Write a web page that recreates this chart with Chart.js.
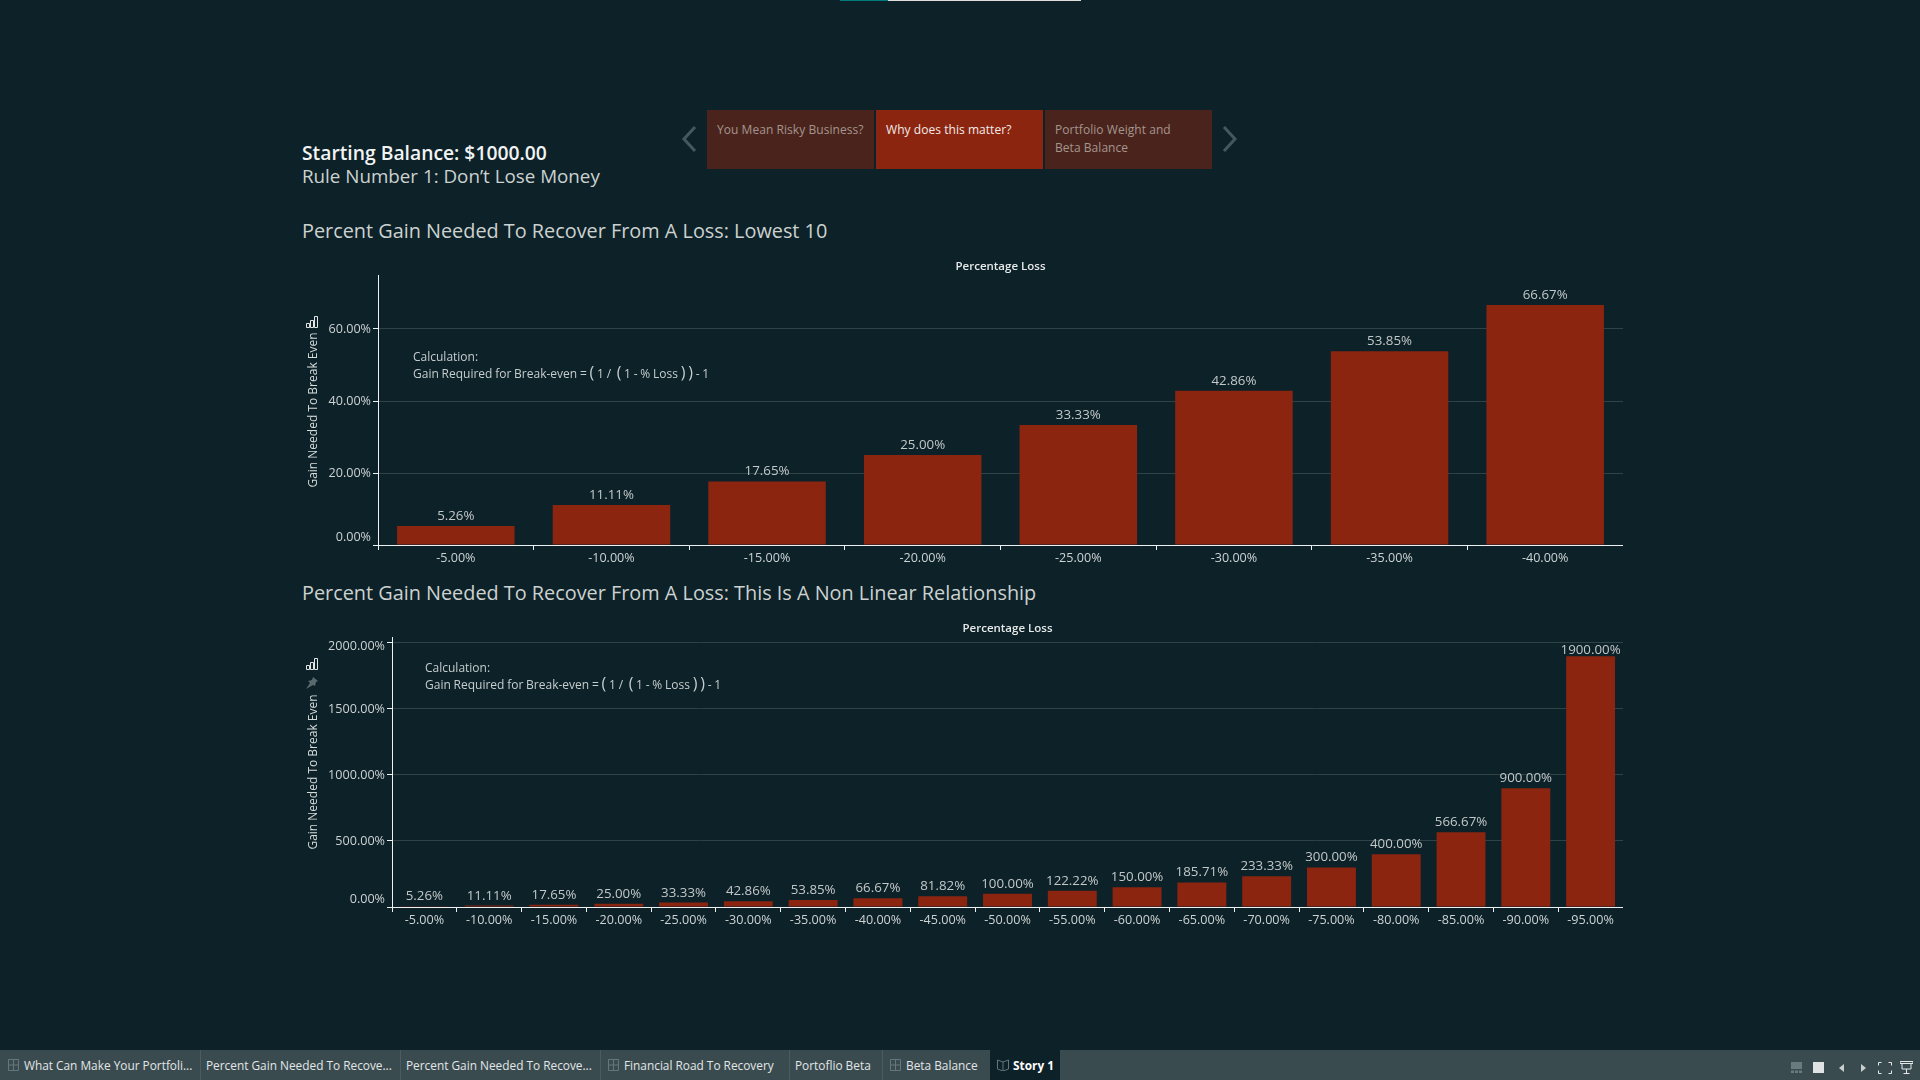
<!DOCTYPE html>
<html>
<head>
<meta charset="utf-8">
<title>Why does this matter?</title>
<script src="https://cdn.jsdelivr.net/npm/chart.js@4/dist/chart.umd.min.js"></script>
<style>
  html, body { margin: 0; width: 1920px; height: 1080px; overflow: hidden; background: #0d2128; }
  body { position: relative; font-family: "Open Sans", "Noto Sans", sans-serif; color: #cdd3d3; }
  .t { position: absolute; white-space: nowrap; line-height: 20px; }
  .h { font-size: 19.85px; line-height: 26px; color: #ccd2d0; }
  .calc { font-size: 12px; color: #c6cdcd; word-spacing: -0.35px; }
  .paren { font-size: 16px; line-height: 16px; }
  canvas { position: absolute; }
  #strip1, #strip2, .box, #tabbar, .tabsep, #activetab { position: absolute; }
  #strip1 { left: 840px; top: 0; width: 48px; height: 1px; background: #007a7a; }
  #strip2 { left: 888px; top: 0; width: 193px; height: 1px; background: #dddddd; }
  .box { top: 110px; width: 167px; height: 59px; background: #4a241c; }
  .box.on { background: #8b2510; }
  .box span { position: absolute; left: 10px; font-size: 12px; line-height: 18px; color: #a5958f; white-space: nowrap; letter-spacing: 0.05px; }
  .box.on span { color: #f1ebe8; }
  #tabbar { left: 0; top: 1050px; width: 1920px; height: 30px; background: #3a4b50; }
  .tabsep { top: 0; width: 1px; height: 30px; background: #4b5b60; }
  #activetab { left: 990px; top: 0; width: 70px; height: 30px; background: #0d2128; }
  .tab { position: absolute; top: 0; line-height: 30px; font-size: 11.85px; color: #e2e6e6; white-space: nowrap; }
  svg { position: absolute; }
</style>
</head>
<body>
<div id="strip1"></div><div id="strip2"></div>

<div class="t" style="left:302px;top:143px;font-size:19.3px;font-weight:600;color:#f2f4f4">Starting Balance: $1000.00</div>
<div class="t" style="left:302px;top:166px;font-size:18.8px;color:#ccd2d0">Rule Number 1: Don’t Lose Money</div>

<svg style="left:680px;top:125px" width="18" height="28" viewBox="0 0 18 28"><path d="M15 2 L4 14 L15 26" fill="none" stroke="#45585e" stroke-width="3"/></svg>
<div class="box" style="left:707px"><span style="top:11px">You Mean Risky Business?</span></div>
<div class="box on" style="left:876px"><span style="top:11px">Why does this matter?</span></div>
<div class="box" style="left:1045px"><span style="top:11px">Portfolio Weight and</span><span style="top:29px">Beta Balance</span></div>
<svg style="left:1221px;top:125px" width="18" height="28" viewBox="0 0 18 28"><path d="M3 2 L14 14 L3 26" fill="none" stroke="#45585e" stroke-width="3"/></svg>

<div class="t h" style="left:302px;top:218px">Percent Gain Needed To Recover From A Loss: Lowest 10</div>
<div class="t h" style="left:302px;top:580px">Percent Gain Needed To Recover From A Loss: This Is A Non Linear Relationship</div>

<canvas id="lowest"></canvas>
<canvas id="allLosses"></canvas>

<svg style="left:306px;top:316px" width="12" height="12" viewBox="0 0 12 12"><path d="M.5 7.500h3v4h-3zM4.500 4.500h3v7h-3zM8.500.5h3v11h-3z" fill="none" stroke="#e2e6e6" stroke-width="1"/></svg>
<svg style="left:306px;top:658px" width="12" height="12" viewBox="0 0 12 12"><path d="M.5 7.500h3v4h-3zM4.500 4.500h3v7h-3zM8.500.5h3v11h-3z" fill="none" stroke="#e2e6e6" stroke-width="1"/></svg>
<svg style="left:306px;top:677px" width="12" height="12" viewBox="0 0 12 12"><path d="M7 0l5 4-2 1-1 4-2-1-7 4 4-6-2-2 4-1z" fill="#59696e"/></svg>

<div class="t calc" style="left:413px;top:347px">Calculation:</div>
<div class="t calc" style="left:413px;top:364px">Gain Required for Break-even = <span class="paren">(</span> 1 /&nbsp; <span class="paren">(</span> 1 - % Loss <span class="paren">)</span> <span class="paren">)</span> - 1</div>
<div class="t calc" style="left:425px;top:658px">Calculation:</div>
<div class="t calc" style="left:425px;top:675px">Gain Required for Break-even = <span class="paren">(</span> 1 /&nbsp; <span class="paren">(</span> 1 - % Loss <span class="paren">)</span> <span class="paren">)</span> - 1</div>

<div id="tabbar">
  <div class="tabsep" style="left:200px"></div>
  <div class="tabsep" style="left:400px"></div>
  <div class="tabsep" style="left:600px"></div>
  <div class="tabsep" style="left:789px"></div>
  <div class="tabsep" style="left:882px"></div>
  <div id="activetab"></div>
  <svg style="left:8px;top:9px" width="11" height="12" viewBox="0 0 11 12"><path d="M.5.5h10v11H.5zM5.5.5v11M.5 6h10" fill="none" stroke="#66767a"/></svg>
  <svg style="left:608px;top:9px" width="11" height="12" viewBox="0 0 11 12"><path d="M.5.5h10v11H.5zM5.5.5v11M.5 6h10" fill="none" stroke="#66767a"/></svg>
  <svg style="left:890px;top:9px" width="11" height="12" viewBox="0 0 11 12"><path d="M.5.5h10v11H.5zM5.5.5v11M.5 6h10" fill="none" stroke="#66767a"/></svg>
  <svg style="left:997px;top:9px" width="12" height="12" viewBox="0 0 12 12"><path d="M.5 1l5.500 2 5.500-2v9l-5.500 2-5.500-2zM6 3v9" fill="none" stroke="#66767a"/></svg>
  <div class="tab" style="left:24px">What Can Make Your Portfoli...</div>
  <div class="tab" style="left:206px">Percent Gain Needed To Recove...</div>
  <div class="tab" style="left:406px">Percent Gain Needed To Recove...</div>
  <div class="tab" style="left:624px">Financial Road To Recovery</div>
  <div class="tab" style="left:795px">Portoflio Beta</div>
  <div class="tab" style="left:906px">Beta Balance</div>
  <div class="tab" style="left:1013px;color:#fff;font-weight:700">Story 1</div>
  <svg style="left:1791px;top:12px" width="11" height="11" viewBox="0 0 11 11"><path d="M0 0h11v7H0zM0 8.500h3V11H0zM4 8.500h3V11H4zM8 8.500h3V11H8z" fill="#6b7a7e"/></svg>
  <svg style="left:1813px;top:12px" width="11" height="11" viewBox="0 0 11 11"><rect width="11" height="11" fill="#dfe3e3"/></svg>
  <svg style="left:1839px;top:14px" width="5" height="8" viewBox="0 0 5 8"><path d="M5 0v8L0 4z" fill="#c9cfcf"/></svg>
  <svg style="left:1861px;top:14px" width="5" height="8" viewBox="0 0 5 8"><path d="M0 0v8l5-4z" fill="#c9cfcf"/></svg>
  <svg style="left:1878px;top:12px" width="14" height="12" viewBox="0 0 14 12"><path d="M.5 3.500v-3h3M10.500.5h3v3M13.500 8.500v3h-3M3.500 11.500h-3v-3" fill="none" stroke="#e4e8e8"/></svg>
  <svg style="left:1900px;top:11px" width="13" height="13" viewBox="0 0 13 13"><path d="M0 .5h13v2H0zM2 2.500h9v5.500H2zM6.500 8v4M3.500 12.500h6" fill="none" stroke="#e4e8e8"/></svg>
</div>

<script>
// values
const lossLabelsLowest = ["-5.00%", "-10.00%", "-15.00%", "-20.00%", "-25.00%", "-30.00%", "-35.00%", "-40.00%"];
const gainLowest = [5.26, 11.11, 17.65, 25.0, 33.33, 42.86, 53.85, 66.67];
const yTicksLowest = [0, 20, 40, 60];

const lossLabelsAll = ["-5.00%", "-10.00%", "-15.00%", "-20.00%", "-25.00%", "-30.00%", "-35.00%", "-40.00%", "-45.00%", "-50.00%",
  "-55.00%", "-60.00%", "-65.00%", "-70.00%", "-75.00%", "-80.00%", "-85.00%", "-90.00%", "-95.00%"];
const gainAll = [5.26, 11.11, 17.65, 25.0, 33.33, 42.86, 53.85, 66.67, 81.82, 100.0,
  122.22, 150.0, 185.71, 233.33, 300.0, 400.0, 566.67, 900.0, 1900.0];
const yTicksAll = [0, 500, 1000, 1500, 2000];

const BAR = "#8b2510";
const AXIS = "#eef1f1";
const GRID = "#2f4347";
const FONT = '"Open Sans", "Noto Sans", sans-serif';

// value label on top of each bar, kept below the top of the plot
const barLabels = {
  id: "barLabels",
  afterDatasetsDraw(chart) {
    const ctx = chart.ctx;
    const meta = chart.getDatasetMeta(0);
    ctx.save();
    ctx.font = "13.3px " + FONT;
    ctx.fillStyle = "#c3c8c8";
    ctx.textAlign = "center";
    ctx.textBaseline = "alphabetic";
    meta.data.forEach((bar, i) => {
      const y = Math.max(bar.y - 6, chart.chartArea.top + 17);
      ctx.fillText(chart.data.datasets[0].data[i].toFixed(2) + "%", bar.x, y);
    });
    ctx.restore();
  }
};

function createChart(id, box, labels, values, yMax, yTicks, yWidth, nudge) {
  const canvas = document.getElementById(id);
  canvas.width = box.width;
  canvas.height = box.height;
  canvas.style.left = box.left + "px";
  canvas.style.top = box.top + "px";
  canvas.style.width = box.width + "px";
  canvas.style.height = box.height + "px";

  return new Chart(canvas.getContext("2d"), {
    type: "bar",
    data: {
      labels: labels,
      datasets: [{
        data: values,
        backgroundColor: BAR,
        categoryPercentage: 1,
        barPercentage: 0.755
      }]
    },
    plugins: [barLabels],
    options: {
      responsive: false,
      animation: false,
      devicePixelRatio: 1,
      layout: { padding: 0 },
      plugins: { legend: { display: false }, tooltip: { enabled: false } },
      scales: {
        x: {
          position: "bottom",
          afterFit: s => { s.height = box.bottomGap; },
          border: { color: AXIS, width: 1 },
          grid: {
            offset: true,
            drawOnChartArea: false,
            tickLength: 5,
            tickColor: c => (c.index === undefined ? "transparent" : AXIS)
          },
          ticks: { color: "#cdd3d3", font: { family: FONT, size: 12.6 }, padding: 1, maxRotation: 0, autoSkip: false }
        },
        top: {
          type: "category",
          position: "top",
          afterFit: s => { s.height = box.topGap; },
          border: { display: false },
          grid: { display: false },
          ticks: { display: false },
          title: { display: true, text: "Percentage Loss", color: "#e6e9e9", font: { family: FONT, size: 11.5, weight: "600" }, padding: { top: 10, bottom: 0 } }
        },
        y: {
          min: 0,
          max: yMax,
          afterFit: s => { s.width = yWidth; },
          afterBuildTicks: s => { s.ticks = yTicks.map(v => ({ value: v })); },
          border: { color: AXIS, width: 1 },
          grid: { color: GRID, tickColor: AXIS, tickLength: 5 },
          title: { display: true, text: "Gain Needed To Break Even", color: "#d5dada", font: { family: FONT, size: 12 }, padding: { top: 6, bottom: 0 } },
          ticks: {
            color: "#cdd3d3",
            padding: 2,
            // the end labels sit inside the axis: a blank extra line moves them by half a line height
            font: c => {
              const shift = c.tick ? nudge[c.tick.value] : 0;
              return { family: FONT, size: 12.6, lineHeight: shift ? Math.abs(shift) * 2 + "px" : 1.2 };
            },
            callback: v => {
              const text = v.toFixed(2) + "%";
              if (nudge[v] < 0) return [text, ""];
              if (nudge[v] > 0) return ["", text];
              return text;
            }
          }
        }
      }
    }
  });
}

createChart("lowest", { left: 300, top: 250, width: 1323, height: 320, topGap: 25, bottomGap: 25 },
  lossLabelsLowest, gainLowest, 75, yTicksLowest, 78, { 0: -8 });
createChart("allLosses", { left: 300, top: 612, width: 1323, height: 320, topGap: 25, bottomGap: 25 },
  lossLabelsAll, gainAll, 2045, yTicksAll, 92, { 0: -8, 2000: 3.5 });
</script>
</body>
</html>
